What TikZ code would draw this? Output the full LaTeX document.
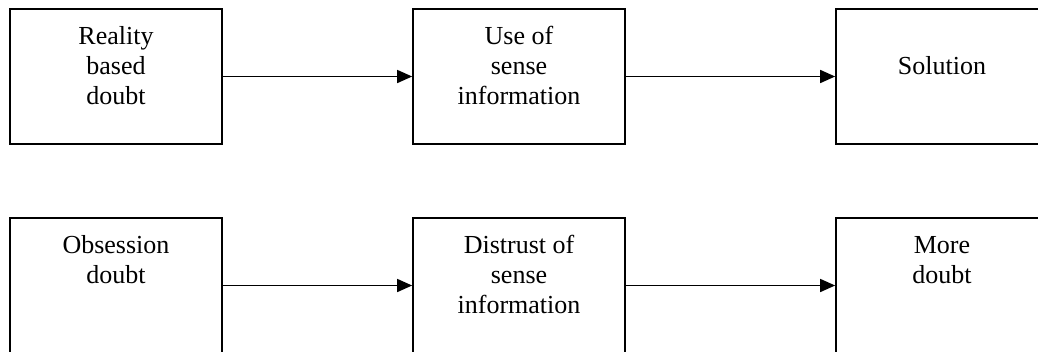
\documentclass[tikz,border=0pt]{standalone}
\usepackage{fontspec}
\setmainfont{Liberation Serif}
\usetikzlibrary{arrows.meta,positioning}

\begin{document}
\begin{tikzpicture}[x=1pt,y=-1pt,
  stage/.style={draw,line width=1.7pt,minimum width=212pt,minimum height=135pt,inner sep=0pt},
  caption/.style={align=center,inner sep=0pt,font=\fontsize{26}{30}\selectfont},
  flow/.style={-{Triangle[length=15pt,width=13pt]},line width=1.6pt}]
\useasboundingbox (0,0) rectangle (1038,351);
\clip (0,0) rectangle (1038,351);
% top row
\node[stage] (real) at (116,76.5) {};
\node[stage] (use) at (519,76.5) {};
\node[stage] (sol) at (942,76.5) {};
\node[caption, below=96pt of real.north, anchor=base] (realtxt) {Reality\\based\\doubt};
\node[caption, below=96pt of use.north, anchor=base] (usetxt) {Use of\\sense\\information};
\node[caption, below=66pt of sol.north, anchor=base] (soltxt) {Solution};
\draw[flow] (real) -- (use);
\draw[flow] (use) -- (sol);
% bottom row
\node[stage] (obs) at (116,285.5) {};
\node[stage] (dis) at (519,285.5) {};
\node[stage] (more) at (942,285.5) {};
\node[caption, below=66pt of obs.north, anchor=base] (obstxt) {Obsession\\doubt};
\node[caption, below=96pt of dis.north, anchor=base] (distxt) {Distrust of\\sense\\information};
\node[caption, below=66pt of more.north, anchor=base] (moretxt) {More\\doubt};
\draw[flow] (obs) -- (dis);
\draw[flow] (dis) -- (more);
\end{tikzpicture}
\end{document}
